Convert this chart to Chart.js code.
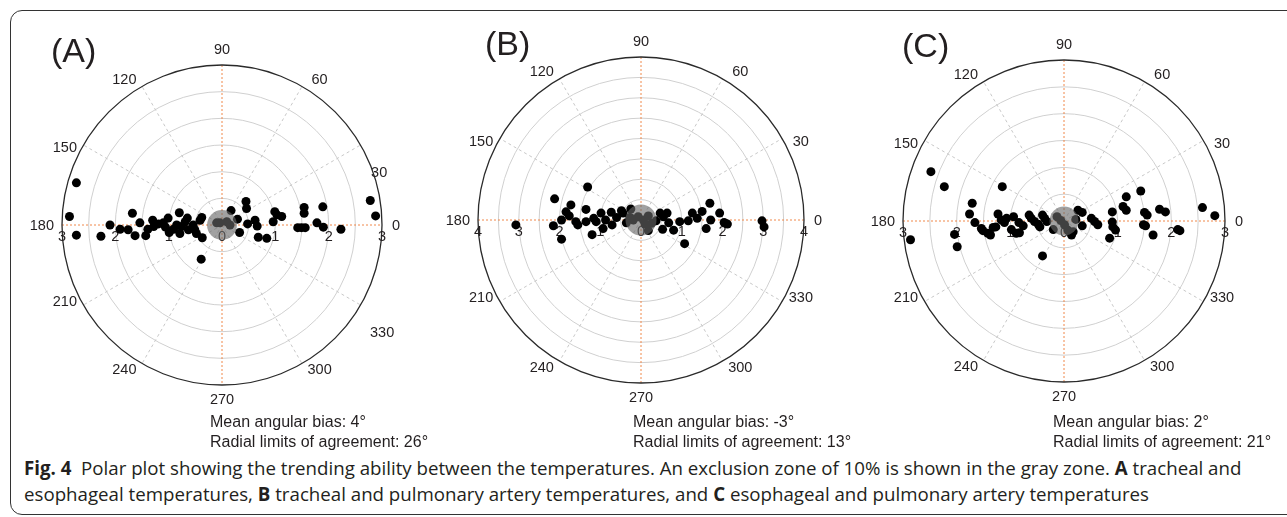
<!DOCTYPE html>
<html>
<head>
<meta charset="utf-8">
<script src="https://cdn.jsdelivr.net/npm/chart.js@4.4.1/dist/chart.umd.min.js"></script>
<style>
body { margin:0; width:1287px; height:517px; background:#fff; overflow:hidden; position:relative; font-family:"Liberation Sans", Arial, sans-serif; color:#231f20; }
.frame { position:absolute; left:10px; top:10px; width:1320px; height:503px; border:1.5px solid #333; border-radius:12px; }
.panel { position:absolute; width:420px; height:420px; }
.tag { position:absolute; font-size:34px; line-height:34px; }
.stats { position:absolute; font-size:16px; line-height:20px; white-space:nowrap; }
.caption { position:absolute; left:24px; top:455px; font-family:"Open Sans", sans-serif; font-size:18.7px; line-height:26px; white-space:nowrap; }
</style>
</head>
<body>
<div class="frame"></div>

<div class="panel" style="left:12px;top:15px"><canvas id="polarA"></canvas></div>
<div class="panel" style="left:431px;top:10px"><canvas id="polarB"></canvas></div>
<div class="panel" style="left:854px;top:11px"><canvas id="polarC"></canvas></div>

<div class="tag" style="left:51px;top:33px">(A)</div>
<div class="tag" style="left:485px;top:26px">(B)</div>
<div class="tag" style="left:902px;top:28px">(C)</div>

<div class="stats" style="left:210px;top:412px">Mean angular bias: 4°<br>Radial limits of agreement: 26°</div>
<div class="stats" style="left:633px;top:412px">Mean angular bias: -3°<br>Radial limits of agreement: 13°</div>
<div class="stats" style="left:1053px;top:412px">Mean angular bias: 2°<br>Radial limits of agreement: 21°</div>

<div class="caption"><b>Fig. 4</b>&nbsp; Polar plot showing the trending ability between the temperatures. An exclusion zone of 10% is shown in the gray zone. <b>A</b> tracheal and<br>esophageal temperatures, <b>B</b> tracheal and pulmonary artery temperatures, and <b>C</b> esophageal and pulmonary artery temperatures</div>

<script>
// angular ticks (degrees) and radial step
const angleTicks = [0, 30, 60, 90, 120, 150, 180, 210, 240, 270, 300, 330];
const ringStep = 0.5;

// (A) tracheal vs esophageal, points as [x, y]
const rMaxA = 3;
const exclusionA = 0.28;
const pointsA = [
  [-2.73, 0.79], [-2.86, 0.16], [-2.73, -0.19], [-2.27, -0.21], [-2.10, 0], [-1.91, -0.08],
  [-1.76, -0.09], [-1.68, 0.22], [-1.63, -0.2], [-1.54, 0.04], [-1.43, -0.2], [-1.39, -0.08],
  [-1.30, 0.09], [-1.28, -0.03], [-1.19, 0.02], [-1.10, 0.04], [-1.06, -0.04], [-1.01, 0.13],
  [-0.99, -0.14], [-0.91, -0.08], [-0.85, 0], [-0.80, 0.23], [-0.79, -0.16], [-0.76, -0.03],
  [-0.69, 0.06], [-0.65, 0.13], [-0.63, -0.09], [-0.54, 0], [-0.51, -0.09], [-0.48, -0.16],
  [-0.41, 0.09], [-0.38, 0.14], [-0.37, -0.24], [-0.39, -0.64], [-0.10, 0.04], [-0.04, 0.04],
  [0.09, 0.06], [0.17, 0.27], [0.15, 0], [0.29, 0.11], [0.33, -0.14], [0.45, 0.44],
  [0.46, 0.31], [0.48, 0.02], [0.62, 0.09], [0.66, -0.02], [0.68, -0.23], [0.84, -0.25],
  [0.96, 0.06], [0.99, 0.25], [1.03, 0.19], [1.12, 0.16], [1.42, -0.05], [1.49, -0.05],
  [1.56, -0.05], [1.54, 0.33], [1.54, 0.22], [1.89, 0.34], [1.78, 0.04], [1.90, -0.04],
  [2.23, -0.08], [2.78, 0.46], [2.88, 0.17]
];

// (B) tracheal vs pulmonary artery
const rMaxB = 4;
const exclusionB = 0.38;
const pointsB = [
  [-3.07, -0.12], [-2.12, 0.52], [-2.15, -0.14], [-1.95, 0], [-1.95, -0.47], [-1.84, 0.2],
  [-1.76, 0.1], [-1.72, 0.37], [-1.60, -0.04], [-1.55, -0.12], [-1.35, 0.26], [-1.31, 0.81],
  [-1.35, -0.04], [-1.20, -0.36], [-1.16, 0.04], [-1.10, -0.04], [-0.98, 0.17], [-0.93, -0.21],
  [-0.87, 0], [-0.73, 0.19], [-0.71, -0.12], [-0.60, 0.06], [-0.48, 0.23], [-0.44, 0.17],
  [-0.36, -0.07], [-0.25, 0.27], [-0.27, 0.06], [-0.19, 0], [-0.07, 0.08], [0.06, 0],
  [0.18, 0.1], [0.10, -0.1], [0.18, -0.26], [0.26, -0.08], [0.37, -0.02], [0.47, 0.17],
  [0.55, 0.08], [0.64, 0.17], [0.68, -0.07], [0.53, -0.23], [0.80, -0.25], [0.95, -0.04],
  [1.07, -0.58], [1.16, -0.02], [1.26, 0.17], [1.38, 0.04], [1.50, 0.21], [1.60, -0.21],
  [1.69, 0.41], [1.71, 0], [1.93, 0.17], [2.04, -0.06], [2.12, -0.1], [2.97, -0.02], [3.02, -0.17]
];

// (C) esophageal vs pulmonary artery
const rMaxC = 3;
const exclusionC = 0.27;
const pointsC = [
  [-2.86, -0.35], [-2.48, 0.92], [-2.23, 0.64], [-2.04, -0.25], [-1.99, -0.48], [-1.76, 0.13],
  [-1.71, 0.33], [-1.66, -0.03], [-1.54, -0.14], [-1.51, -0.18], [-1.42, -0.23], [-1.37, -0.26],
  [-1.32, -0.12], [-1.27, -0.11], [-1.23, 0.13], [-1.17, 0.02], [-1.15, 0.64], [-1.11, -0.03],
  [-1.07, 0.05], [-0.98, -0.16], [-0.94, 0.08], [-0.89, -0.23], [-0.83, -0.22], [-0.84, -0.03],
  [-0.76, -0.09], [-0.65, 0.11], [-0.61, 0.05], [-0.55, -0.01], [-0.48, -0.06], [-0.45, -0.11],
  [-0.40, 0.11], [-0.36, 0.05], [-0.32, -0.01], [-0.20, -0.16], [-0.13, 0.08], [-0.06, 0.01],
  [0.01, -0.07], [0.07, -0.17], [0.17, -0.20], [0.14, -0.26], [0.22, 0.03], [0.26, 0.20],
  [0.34, 0.16], [0.34, -0.09], [0.51, 0.05], [0.57, -0.01], [0.63, -0.07], [0.85, -0.32],
  [0.90, 0.17], [0.90, -0.02], [0.91, -0.11], [0.96, -0.17], [1.10, 0.27], [1.16, 0.20],
  [1.16, 0.45], [1.43, 0.56], [1.50, 0.16], [1.55, 0.11], [1.48, -0.07], [1.52, -0.09],
  [1.66, -0.26], [1.78, 0.22], [1.89, 0.17], [2.12, -0.16], [2.16, -0.18], [2.58, 0.25],
  [2.81, 0.10], [-0.40, -0.65]
];

// draws rings, spokes, axis lines and labels behind the points, exclusion disk on top
const polarGrid = {
  id: 'polarGrid',
  beforeDatasetsDraw(chart, args, opts) {
    const { ctx, scales: { x, y } } = chart;
    const cx = x.getPixelForValue(0), cy = y.getPixelForValue(0);
    const R = x.getPixelForValue(opts.rMax) - cx;
    ctx.save();

    ctx.strokeStyle = '#d0d0d0';
    ctx.lineWidth = 1;
    for (let v = ringStep; v < opts.rMax - 1e-6; v += ringStep) {
      const r = x.getPixelForValue(v) - cx;
      ctx.beginPath();
      ctx.arc(cx, cy, r, 0, Math.PI * 2);
      ctx.stroke();
    }

    ctx.setLineDash([3, 3]);
    ctx.strokeStyle = '#c8c8c8';
    angleTicks.forEach(a => {
      if (a % 90 === 0) return;
      const t = a * Math.PI / 180;
      ctx.beginPath();
      ctx.moveTo(cx, cy);
      ctx.lineTo(cx + R * Math.cos(t), cy - R * Math.sin(t));
      ctx.stroke();
    });

    ctx.setLineDash([2, 2]);
    ctx.strokeStyle = '#f0884a';
    ctx.beginPath();
    ctx.moveTo(cx - R, cy); ctx.lineTo(cx + R, cy);
    ctx.moveTo(cx, cy - R); ctx.lineTo(cx, cy + R);
    ctx.stroke();

    ctx.setLineDash([]);
    ctx.strokeStyle = '#2a2a2a';
    ctx.lineWidth = 1.3;
    ctx.beginPath();
    ctx.arc(cx, cy, R, 0, Math.PI * 2);
    ctx.stroke();

    ctx.fillStyle = '#231f20';
    ctx.font = '14.5px "Liberation Sans", Arial, sans-serif';
    ctx.textBaseline = 'middle';
    const nudge = opts.nudge || {};
    angleTicks.forEach(a => {
      let tx, ty;
      ctx.textAlign = 'center';
      if (a === 0) {
        tx = cx + R + 10; ty = cy + 1; ctx.textAlign = 'left';
      } else if (a === 180) {
        tx = cx - R - 8; ty = cy + 1; ctx.textAlign = 'right';
      } else {
        const t = a * Math.PI / 180;
        const t2 = (a - 4.5 * Math.sin(2 * t)) * Math.PI / 180;
        tx = cx + (R + 15) * Math.cos(t2);
        ty = cy - (R + 15) * Math.sin(t2);
      }
      const n = nudge[a] || [0, 0];
      ctx.fillText(String(a), tx + n[0], ty + n[1]);
    });

    ctx.textAlign = 'center';
    for (let v = -opts.rMax; v <= opts.rMax; v++) {
      ctx.fillText(String(Math.abs(v)), x.getPixelForValue(v), cy + 12);
    }
    ctx.restore();
  },
  afterDatasetsDraw(chart, args, opts) {
    const { ctx, scales: { x, y } } = chart;
    const cx = x.getPixelForValue(0), cy = y.getPixelForValue(0);
    const r = x.getPixelForValue(opts.exclusion) - cx;
    ctx.save();
    ctx.fillStyle = 'rgba(103,103,103,0.62)';
    ctx.beginPath();
    ctx.arc(cx, cy, r, 0, Math.PI * 2);
    ctx.fill();
    ctx.restore();
  }
};

function makePolar(id, points, rMax, exclusion, radiusPx, nudge) {
  const pad = 210 - radiusPx;
  return new Chart(document.getElementById(id), {
    type: 'scatter',
    data: {
      datasets: [{
        data: points.map(p => ({ x: p[0], y: p[1] })),
        backgroundColor: '#000',
        borderWidth: 0,
        pointRadius: 4.5,
        clip: false
      }]
    },
    options: {
      responsive: true,
      maintainAspectRatio: false,
      animation: false,
      layout: { padding: pad },
      scales: {
        x: { type: 'linear', min: -rMax, max: rMax, display: false },
        y: { type: 'linear', min: -rMax, max: rMax, display: false }
      },
      plugins: {
        legend: { display: false },
        tooltip: { enabled: false },
        polarGrid: { rMax, exclusion, nudge }
      }
    },
    plugins: [polarGrid]
  });
}

makePolar('polarA', pointsA, rMaxA, exclusionA, 160, { 30: [0, 25], 330: [3, 31] });
makePolar('polarB', pointsB, rMaxB, exclusionB, 163, {});
makePolar('polarC', pointsC, rMaxC, exclusionC, 161, {});
</script>
</body>
</html>
